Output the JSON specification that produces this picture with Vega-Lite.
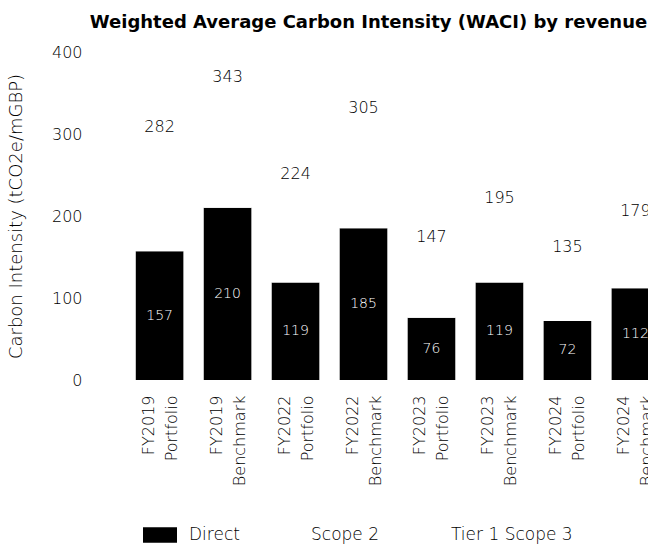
{
  "$schema": "https://vega.github.io/schema/vega-lite/v6.json",
  "autosize": {"type": "none"},
  "width": 553,
  "height": 328,
  "padding": {"left": 95, "top": 52, "right": 0, "bottom": 165},
  "background": "white",
  "title": {
    "text": "Weighted Average Carbon Intensity (WACI) by revenue",
    "font": "DejaVu Sans",
    "fontSize": 18,
    "fontWeight": "bold",
    "color": "#000",
    "anchor": "middle",
    "frame": "group",
    "dx": -3,
    "offset": 12
  },
  "config": {
    "view": {"stroke": null},
    "font": "DejaVu Sans",
    "axis": {"labelFont": "DejaVu Sans", "titleFont": "DejaVu Sans", "labelColor": "#000", "titleColor": "#000", "labelFontWeight": 200, "titleFontWeight": 200}
  },
  "data": {
    "values": [
      {"bar": "FY2019 Portfolio", "component": "Direct", "value": 157},
      {"bar": "FY2019 Portfolio", "component": "Scope 2", "value": 25},
      {"bar": "FY2019 Portfolio", "component": "Tier 1 Scope 3", "value": 100},
      {"bar": "FY2019 Benchmark", "component": "Direct", "value": 210},
      {"bar": "FY2019 Benchmark", "component": "Scope 2", "value": 28},
      {"bar": "FY2019 Benchmark", "component": "Tier 1 Scope 3", "value": 105},
      {"bar": "FY2022 Portfolio", "component": "Direct", "value": 119},
      {"bar": "FY2022 Portfolio", "component": "Scope 2", "value": 20},
      {"bar": "FY2022 Portfolio", "component": "Tier 1 Scope 3", "value": 85},
      {"bar": "FY2022 Benchmark", "component": "Direct", "value": 185},
      {"bar": "FY2022 Benchmark", "component": "Scope 2", "value": 24},
      {"bar": "FY2022 Benchmark", "component": "Tier 1 Scope 3", "value": 96},
      {"bar": "FY2023 Portfolio", "component": "Direct", "value": 76},
      {"bar": "FY2023 Portfolio", "component": "Scope 2", "value": 12},
      {"bar": "FY2023 Portfolio", "component": "Tier 1 Scope 3", "value": 59},
      {"bar": "FY2023 Benchmark", "component": "Direct", "value": 119},
      {"bar": "FY2023 Benchmark", "component": "Scope 2", "value": 16},
      {"bar": "FY2023 Benchmark", "component": "Tier 1 Scope 3", "value": 60},
      {"bar": "FY2024 Portfolio", "component": "Direct", "value": 72},
      {"bar": "FY2024 Portfolio", "component": "Scope 2", "value": 11},
      {"bar": "FY2024 Portfolio", "component": "Tier 1 Scope 3", "value": 52},
      {"bar": "FY2024 Benchmark", "component": "Direct", "value": 112},
      {"bar": "FY2024 Benchmark", "component": "Scope 2", "value": 14},
      {"bar": "FY2024 Benchmark", "component": "Tier 1 Scope 3", "value": 53}
    ]
  },
  "layer": [
    {
      "mark": {"type": "bar"},
      "encoding": {
        "x": {
          "field": "bar", "type": "nominal", "sort": null,
          "scale": {"range": [0, 605], "paddingInner": 0.3, "paddingOuter": 0.6},
          "axis": {
            "title": null, "labelAngle": -90, "domain": false, "ticks": false,
            "labelFontSize": 16, "labelPadding": 15, "labelLineHeight": 23, "labelOffset": -11,
            "labelExpr": "split(datum.label, ' ')"
          }
        },
        "y": {
          "field": "value", "type": "quantitative", "aggregate": "sum", "stack": "zero",
          "scale": {"domain": [0, 400], "nice": false},
          "axis": {
            "title": "Carbon Intensity (tCO2e/mGBP)", "values": [0, 100, 200, 300, 400],
            "grid": false, "domain": false, "ticks": false,
            "labelFontSize": 16, "labelPadding": 13, "titleFontSize": 18,
            "titlePadding": 26
          }
        },
        "color": {
          "field": "component", "type": "nominal",
          "scale": {"domain": ["Direct", "Scope 2", "Tier 1 Scope 3"], "range": ["#000000", "#ffffff", "#ffffff"]},
          "legend": {
            "title": null, "orient": "none", "legendX": 48, "legendY": 466,
            "direction": "horizontal", "labelFontSize": 17, "labelColor": "#000", "labelFont": "DejaVu Sans", "labelFontWeight": 200,
            "symbolType": "M-1,-0.45H1V0.45H-1Z", "symbolSize": 1156, "symbolStrokeWidth": 0,
            "columnPadding": 25, "labelOffset": 12
          }
        },
        "order": {"field": "component", "sort": "ascending"}
      }
    },
    {
      "transform": [{"aggregate": [{"op": "sum", "field": "value", "as": "total"}], "groupby": ["bar"]}],
      "mark": {"type": "text", "fontSize": 16, "fontWeight": 200, "color": "#000", "baseline": "middle", "dy": -22},
      "encoding": {
        "x": {"field": "bar", "type": "nominal", "sort": null},
        "y": {"field": "total", "type": "quantitative", "scale": {"domain": [0, 400], "nice": false}, "axis": null},
        "text": {"field": "total", "type": "quantitative"}
      }
    },
    {
      "transform": [{"filter": "datum.component === 'Direct'"}],
      "mark": {"type": "text", "fontSize": 14, "fontWeight": 200, "color": "white", "baseline": "middle"},
      "encoding": {
        "x": {"field": "bar", "type": "nominal", "sort": null},
        "y": {"field": "value", "type": "quantitative", "scale": {"domain": [0, 800], "nice": false}, "axis": null},
        "text": {"field": "value", "type": "quantitative"}
      }
    }
  ],
  "resolve": {"scale": {"y": "independent"}}
}
